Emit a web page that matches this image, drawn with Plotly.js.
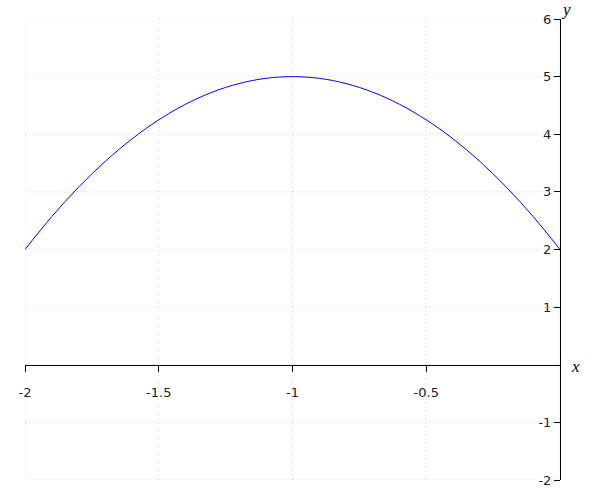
<!DOCTYPE html>
<html>
<head>
<meta charset="utf-8">
<script src="https://cdn.plot.ly/plotly-3.0.1.min.js"></script>
<style>html,body{margin:0;padding:0;background:#fff;}#chart{width:600px;height:500px;}</style>
</head>
<body>
<div id="chart"></div>
<script>
const xValues = [-2, -1.9, -1.8, -1.7, -1.6, -1.5, -1.4, -1.3, -1.2, -1.1, -1, -0.9, -0.8, -0.7, -0.6, -0.5, -0.4, -0.3, -0.2, -0.1, 0];
const yValues = [2, 2.57, 3.08, 3.53, 3.92, 4.25, 4.52, 4.73, 4.88, 4.97, 5, 4.97, 4.88, 4.73, 4.52, 4.25, 3.92, 3.53, 3.08, 2.57, 2];
const xTickVals = [-2, -1.5, -1, -0.5];
const xTickText = ["-2", "-1.5", "-1", "-0.5"];
const yTickVals = [-2, -1, 1, 2, 3, 4, 5, 6];
const yTickText = ["-2", "-1", "1", "2", "3", "4", "5", "6"];
const xGridVals = [-2, -1.5, -1, -0.5, 0];
const yGridVals = [-2, -1, 0, 1, 2, 3, 4, 5, 6];

const trace = {
  x: xValues, y: yValues, type: 'scatter', mode: 'lines',
  line: {color: '#0000ff', width: 1, shape: 'spline', smoothing: 1},
  hoverinfo: 'skip', showlegend: false
};

const gridLine = {color: '#cfcfcf', width: 1, dash: '1px,3px'};
const shapes = [];
xGridVals.forEach(v => shapes.push({type:'line', xref:'x', yref:'paper', x0:v, x1:v, y0:0, y1:1, layer:'below', line:gridLine}));
yGridVals.forEach(v => shapes.push({type:'line', xref:'paper', yref:'y', x0:0, x1:1, y0:v, y1:v, layer:'below', line:gridLine}));

const tickFont = {family: 'DejaVu Sans', size: 13, color: '#222'};
const layout = {
  width: 600, height: 500,
  margin: {l: 25, r: 40, t: 19, b: 20},
  paper_bgcolor: '#fff', plot_bgcolor: '#fff',
  xaxis: {
    range: [-2, 0], anchor: 'free', position: 0.25,
    showgrid: false, zeroline: false,
    showline: true, linecolor: '#000', linewidth: 1,
    ticks: 'outside', ticklen: 6, tickcolor: '#000', tickwidth: 1,
    ticklabelstandoff: 10,
    tickmode: 'array', tickvals: xTickVals, ticktext: xTickText,
    tickfont: tickFont
  },
  yaxis: {
    range: [-2, 6], anchor: 'free', position: 1, side: 'left',
    showgrid: false, zeroline: false,
    showline: true, linecolor: '#000', linewidth: 1,
    ticks: 'outside', ticklen: 6, tickcolor: '#000', tickwidth: 1,
    tickmode: 'array', tickvals: yTickVals, ticktext: yTickText,
    tickfont: tickFont
  },
  shapes: shapes,
  annotations: [
    {text: 'x', xref: 'paper', yref: 'y', x: 1, y: 0, xanchor: 'left', yanchor: 'middle', xshift: 9, yshift: -2, showarrow: false,
     font: {family: 'Liberation Serif', size: 17, color: '#000', style: 'italic'}},
    {text: 'y', xref: 'paper', yref: 'paper', x: 1, y: 1, xanchor: 'left', yanchor: 'bottom', xshift: -1, yshift: -2, showarrow: false,
     font: {family: 'Liberation Serif', size: 17, color: '#000', style: 'italic'}}
  ]
};

Plotly.newPlot('chart', [trace], layout, {displayModeBar: false, staticPlot: true});
</script>
</body>
</html>
